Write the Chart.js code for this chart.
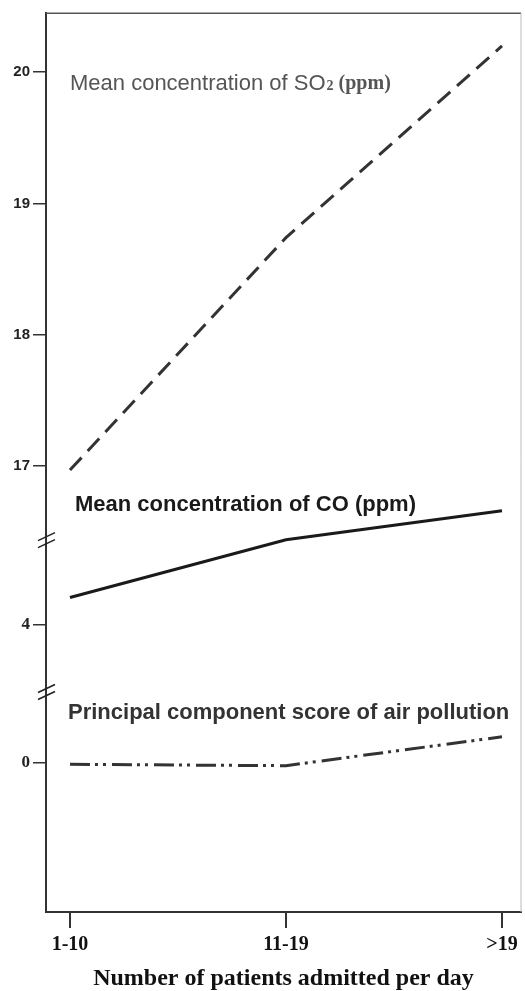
<!DOCTYPE html>
<html>
<head>
<meta charset="utf-8">
<script src="https://cdn.jsdelivr.net/npm/chart.js"></script>
<style>
  html, body { margin: 0; padding: 0; background: #fff; }
  #wrap { width: 525px; height: 991px; position: relative; }
</style>
</head>
<body>
<div id="wrap"><canvas id="myChart"></canvas></div>
<script>
var categories = ['1-10', '11-19', '>19'];
var so2Values = [16.97, 18.74, 20.2];
var coValues = [4.21, 4.65, 4.87];
var pcValues = [-0.01, -0.02, 0.20];
var so2Ticks = [17, 18, 19, 20];
var coTicks = [4];
var pcTicks = [0];

function toPoints(values) {
  return values.map(function (v, i) { return { x: i, y: v }; });
}

// labels, axis breaks and frame
var decor = {
  id: 'decor',
  afterDraw: function (chart) {
    var ctx = chart.ctx;
    var a = chart.chartArea;
    ctx.save();

    ctx.strokeStyle = '#555';
    ctx.lineWidth = 1.5;
    ctx.beginPath();
    ctx.moveTo(a.left, a.top);
    ctx.lineTo(a.right, a.top);
    ctx.stroke();
    ctx.strokeStyle = '#bbb';
    ctx.lineWidth = 1;
    ctx.beginPath();
    ctx.moveTo(a.right, a.top);
    ctx.lineTo(a.right, a.bottom);
    ctx.stroke();

    // break marks
    ctx.strokeStyle = '#222';
    ctx.lineWidth = 1.5;
    [chart.scales.ySO2.bottom, chart.scales.yCO.bottom].forEach(function (y) {
      [-3.5, 3.5].forEach(function (d) {
        ctx.beginPath();
        ctx.moveTo(a.left - 8, y + d + 4);
        ctx.lineTo(a.left + 9, y + d - 4);
        ctx.stroke();
      });
    });

    ctx.textBaseline = 'middle';
    ctx.textAlign = 'left';

    // SO2 label
    var x = 70, y = 84;
    ctx.fillStyle = '#555';
    ctx.font = '22px "Liberation Sans"';
    var t1 = 'Mean concentration of SO';
    ctx.fillText(t1, x, y);
    x += ctx.measureText(t1).width + 1;
    ctx.font = 'bold 14px "Liberation Serif"';
    ctx.fillText('2', x, y + 2);
    x += ctx.measureText('2').width + 5;
    ctx.font = 'bold 20px "Liberation Serif"';
    ctx.fillText('(ppm)', x, y);

    ctx.fillStyle = '#1a1a1a';
    ctx.font = 'bold 22px "Liberation Sans"';
    ctx.fillText('Mean concentration of CO (ppm)', 75, 505);

    ctx.fillStyle = '#333';
    ctx.font = 'bold 22px "Liberation Sans"';
    ctx.fillText('Principal component score of air pollution', 68, 713);

    ctx.restore();
  }
};

function yScale(stackWeight, min, max, ticks, family, size) {
  return {
    type: 'linear',
    position: 'left',
    stack: 'y',
    stackWeight: stackWeight,
    min: min,
    max: max,
    offset: false,
    clip: false,
    afterBuildTicks: function (s) { s.ticks = ticks.map(function (v) { return { value: v }; }); },
    afterFit: function (s) { s.width = 46; },
    ticks: { font: { family: family, weight: 'bold', size: size }, color: '#222', padding: 3 },
    grid: { drawOnChartArea: false, drawTicks: true, tickLength: 13, color: '#333', lineWidth: 1.5 },
    border: { color: '#333', width: 2 }
  };
}

var ctx = document.getElementById('myChart');
var myChart = new Chart(ctx, {
  type: 'line',
  data: {
    datasets: [
      {
        label: 'SO2',
        data: toPoints(so2Values),
        yAxisID: 'ySO2',
        borderColor: '#333',
        borderWidth: 3,
        borderDash: [17, 9],
        pointRadius: 0,
        clip: false
      },
      {
        label: 'CO',
        data: toPoints(coValues),
        yAxisID: 'yCO',
        borderColor: '#1a1a1a',
        borderWidth: 3,
        pointRadius: 0,
        clip: false
      },
      {
        label: 'PC',
        data: toPoints(pcValues),
        yAxisID: 'yPC',
        borderColor: '#333',
        borderWidth: 3,
        borderDash: [20, 5, 3, 5, 3, 6],
        pointRadius: 0,
        clip: false
      }
    ]
  },
  options: {
    responsive: true,
    maintainAspectRatio: false,
    animation: false,
    layout: { padding: { top: 13, right: 4, left: 0, bottom: 0 } },
    plugins: { legend: { display: false }, tooltip: { enabled: false } },
    scales: {
      x: {
        type: 'linear',
        min: -0.111,
        max: 2.088,
        afterBuildTicks: function (s) { s.ticks = categories.map(function (c, i) { return { value: i }; }); },
        afterFit: function (s) { s.height = 79; },
        ticks: {
          callback: function (v) { return categories[v]; },
          font: { family: 'Liberation Serif', weight: 'bold', size: 20 },
          color: '#111',
          padding: 5,
          autoSkip: false,
          maxRotation: 0
        },
        grid: { drawOnChartArea: false, drawTicks: true, tickLength: 16, color: '#333', lineWidth: 2 },
        border: { color: '#333', width: 2 },
        title: {
          display: true,
          text: 'Number of patients admitted per day',
          font: { family: 'Liberation Serif', weight: 'bold', size: 24, lineHeight: 1 },
          color: '#111',
          padding: { top: 4, bottom: 0 }
        }
      },
      // stacked scales are placed bottom first
      yPC: yScale(220, -1.135, 0.541, pcTicks, 'Liberation Serif', 17),
      yCO: yScale(152, 3.490, 4.647, coTicks, 'Liberation Serif', 17),
      ySO2: yScale(527, 16.437, 20.449, so2Ticks, 'Liberation Sans', 15)
    }
  },
  plugins: [decor]
});
</script>
</body>
</html>
